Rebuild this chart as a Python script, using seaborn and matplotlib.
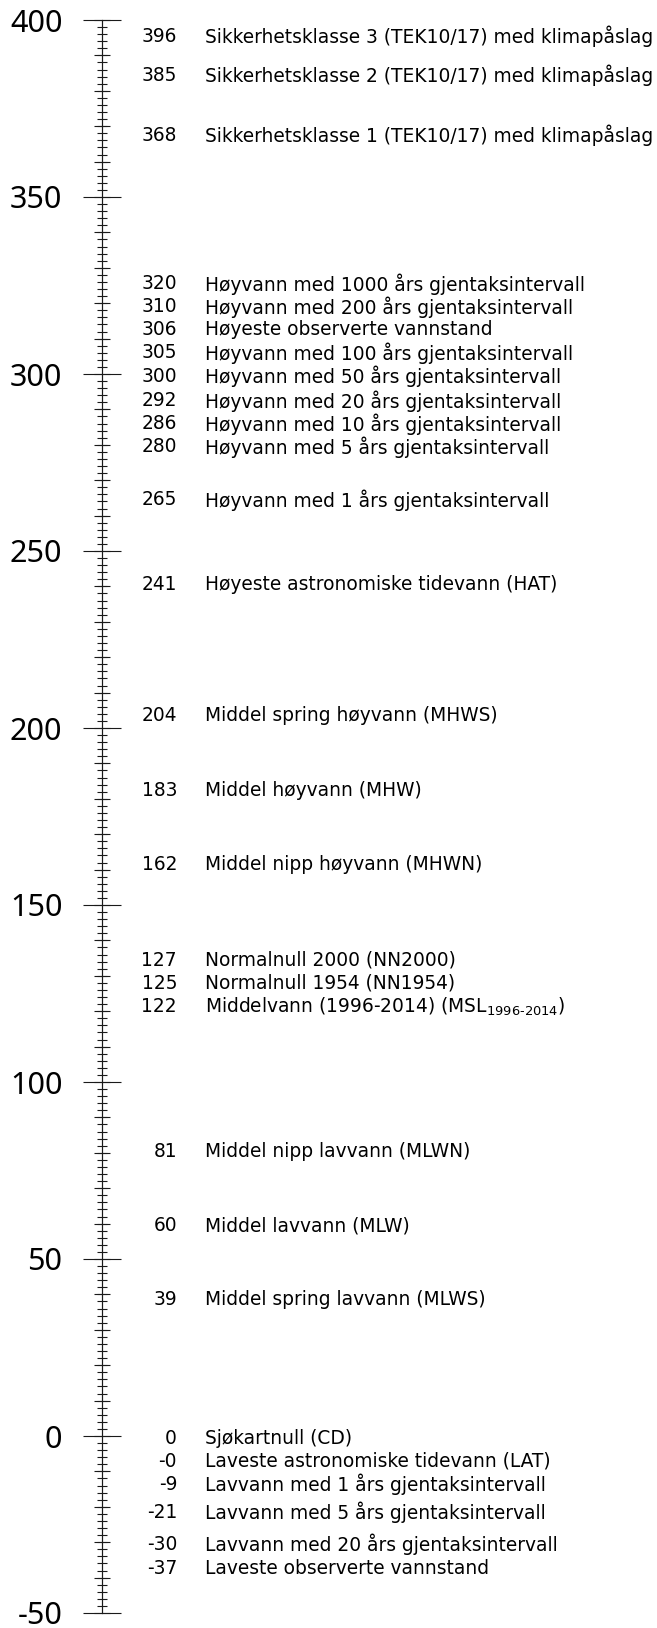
import matplotlib
matplotlib.use("Agg")
import matplotlib.pyplot as plt
from matplotlib.ticker import MultipleLocator
import seaborn as sns
import numpy as np

# water levels (cm) and what they stand for
levels = [396, 385, 368, 320, 310, 306, 305, 300, 292, 286, 280, 265, 241,
          204, 183, 162, 127, 125, 122, 81, 60, 39, 0, -0.3, -9, -21, -30, -37]
names = [
    "Sikkerhetsklasse 3 (TEK10/17) med klimapåslag",
    "Sikkerhetsklasse 2 (TEK10/17) med klimapåslag",
    "Sikkerhetsklasse 1 (TEK10/17) med klimapåslag",
    "Høyvann med 1000 års gjentaksintervall",
    "Høyvann med 200 års gjentaksintervall",
    "Høyeste observerte vannstand",
    "Høyvann med 100 års gjentaksintervall",
    "Høyvann med 50 års gjentaksintervall",
    "Høyvann med 20 års gjentaksintervall",
    "Høyvann med 10 års gjentaksintervall",
    "Høyvann med 5 års gjentaksintervall",
    "Høyvann med 1 års gjentaksintervall",
    "Høyeste astronomiske tidevann (HAT)",
    "Middel spring høyvann (MHWS)",
    "Middel høyvann (MHW)",
    "Middel nipp høyvann (MHWN)",
    "Normalnull 2000 (NN2000)",
    "Normalnull 1954 (NN1954)",
    r"Middelvann (1996-2014) (MSL$_{\text{1996-2014}}$)",
    "Middel nipp lavvann (MLWN)",
    "Middel lavvann (MLW)",
    "Middel spring lavvann (MLWS)",
    "Sjøkartnull (CD)",
    "Laveste astronomiske tidevann (LAT)",
    "Lavvann med 1 års gjentaksintervall",
    "Lavvann med 5 års gjentaksintervall",
    "Lavvann med 20 års gjentaksintervall",
    "Laveste observerte vannstand",
]
pivot = 122      # labels above MSL get pushed up, below get pushed down
gap = 6.5        # min distance between labels (cm)

sns.set_theme(style="white")
plt.rcParams['font.family'] = ['DejaVu Sans']
plt.rcParams['axes.unicode_minus'] = False

# spread labels so they don't overlap
vals = np.array(levels, dtype=float)
pos = vals.copy()
up = [i for i in np.argsort(vals) if vals[i] >= pivot]
prev = None
for i in up:
    if prev is not None:
        pos[i] = max(vals[i], prev + gap)
    prev = pos[i]
down = [i for i in np.argsort(-vals, kind="stable") if vals[i] < pivot]
prev = None
for i in down:
    if prev is not None:
        pos[i] = min(vals[i], prev - gap)
    prev = pos[i]

fig = plt.figure(figsize=(6.57, 16.28), dpi=100)
ax = fig.add_axes([0, 15 / 1628, 1, 1593 / 1628])
ax.set_xlim(0, 657)
ax.set_ylim(-50, 400)

# scale bar
axis_x = 102
for s in ['top', 'right', 'bottom']:
    ax.spines[s].set_visible(False)
ax.spines['left'].set_position(('data', axis_x))
ax.spines['left'].set_color('#1a1a1a')
ax.spines['left'].set_linewidth(0.8)
ax.set_xticks([])
ax.set_yticks(np.arange(-50, 401, 50))
ax.yaxis.set_minor_locator(MultipleLocator(2))
ax.tick_params(axis='y', which='major', left=True, direction='inout', length=28, width=0.8,
               color='#1a1a1a', pad=14.5, labelsize=22, labelcolor='black')
ax.tick_params(axis='y', which='minor', left=True, direction='inout', length=7.2, width=0.8,
               color='#1a1a1a')
for lab in ax.get_yticklabels():
    lab.set_fontfamily(['Noto Sans', 'DejaVu Sans'])

sec = ax.secondary_yaxis(axis_x / 657)
sec.set_yticks(np.arange(-50, 401, 10))
sec.tick_params(axis='y', which='major', left=True, direction='inout', length=11.5, width=0.8,
                color='#1a1a1a', labelleft=False, labelright=False)
sec.tick_params(axis='y', which='minor', length=0)
sec.spines['left'].set_color('#1a1a1a')
sec.spines['left'].set_linewidth(0.8)

for v, p, n in zip(vals, pos, names):
    ax.text(177, p, f"{v:.0f}", ha='right', va='center_baseline', fontsize=13.4, color='black')
    ax.text(205, p, n, ha='left', va='center_baseline', fontsize=13.4, color='black')

fig.savefig("out.png", dpi=100)
